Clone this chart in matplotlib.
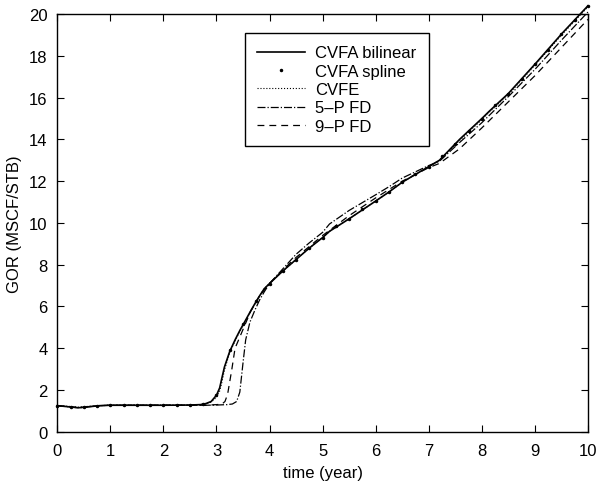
import matplotlib
matplotlib.use('Agg')
import matplotlib.pyplot as plt
import numpy as np

plt.rcParams['font.family'] = ['Liberation Sans', 'DejaVu Sans']
plt.rcParams['font.size'] = 12

# CVFA bilinear / CVFE (same time grid)
t_bil = [0, 0.2, 0.4, 0.6, 0.8, 1.0, 1.5, 2.0, 2.5, 2.7, 2.8, 2.9, 3.0, 3.06, 3.1, 3.15,
         3.25, 3.35, 3.44, 3.55, 3.63, 3.72, 3.81, 3.9, 4.0, 4.25, 4.5, 4.75, 5.0, 5.13,
         5.5, 6.0, 6.26, 6.5, 7.0, 7.2, 7.58, 8.0, 8.14, 8.5, 9.0, 9.52, 10.0]
g_bil = [1.25, 1.2, 1.15, 1.2, 1.25, 1.27, 1.27, 1.27, 1.28, 1.3, 1.35, 1.45, 1.75, 2.1, 2.55, 3.1,
         3.85, 4.4, 4.85, 5.35, 5.72, 6.12, 6.5, 6.85, 7.1, 7.7, 8.25, 8.8, 9.3, 9.6,
         10.2, 11.05, 11.5, 11.95, 12.7, 13.0, 14.0, 15.0, 15.35, 16.2, 17.6, 19.1, 20.4]
g_cvfe = [1.25, 1.22, 1.18, 1.22, 1.25, 1.27, 1.27, 1.27, 1.28, 1.3, 1.34, 1.42, 1.65, 1.95, 2.35, 2.95,
          3.8, 4.35, 4.82, 5.32, 5.7, 6.1, 6.5, 6.85, 7.1, 7.7, 8.25, 8.8, 9.3, 9.6,
          10.2, 11.05, 11.5, 11.95, 12.7, 13.0, 13.95, 14.95, 15.3, 16.15, 17.55, 19.05, 20.35]

# CVFA spline (marker points)
t_spl = [0.0, 0.25, 0.5, 0.75, 1.0, 1.25, 1.5, 1.75, 2.0, 2.25, 2.5, 2.75, 3.0, 3.25, 3.5,
         3.75, 4.0, 4.25, 4.5, 4.75, 5.0, 5.25, 5.5, 5.75, 6.0, 6.25, 6.5, 6.75, 7.0, 7.25,
         7.5, 7.75, 8.0, 8.25, 8.5, 8.75, 9.0, 9.25, 9.5, 9.75, 10.0]
g_spl = [1.25, 1.2, 1.17, 1.24, 1.27, 1.27, 1.27, 1.27, 1.27, 1.28, 1.28, 1.32, 1.75, 3.9, 5.15,
         6.25, 7.1, 7.7, 8.25, 8.8, 9.3, 9.85, 10.2, 10.65, 11.05, 11.5, 11.95, 12.35, 12.7, 13.2,
         13.8, 14.4, 15.0, 15.65, 16.2, 16.9, 17.6, 18.3, 19.05, 19.7, 20.4]

# 5-P FD
t_5p = [0, 0.2, 0.4, 0.6, 0.8, 1.0, 2.0, 2.8, 3.0, 3.2, 3.3, 3.38, 3.44, 3.5, 3.55, 3.63, 3.72,
        3.81, 3.9, 4.0, 4.25, 4.5, 4.75, 5.0, 5.13, 5.5, 6.0, 6.26, 6.5, 7.0, 7.2, 7.58,
        8.0, 8.5, 9.0, 9.5, 10.0]
g_5p = [1.25, 1.2, 1.15, 1.2, 1.25, 1.27, 1.27, 1.27, 1.28, 1.3, 1.33, 1.45, 1.9, 3.3, 4.4, 5.25, 5.8,
        6.3, 6.7, 7.1, 7.8, 8.5, 9.05, 9.55, 9.95, 10.6, 11.35, 11.75, 12.15, 12.75, 12.95, 13.85,
        14.8, 16.05, 17.35, 18.75, 20.1]

# 9-P FD
t_9p = [0, 0.2, 0.4, 0.6, 0.8, 1.0, 2.0, 2.8, 3.0, 3.1, 3.16, 3.21, 3.29, 3.35, 3.45, 3.55, 3.65,
        3.81, 4.0, 4.25, 4.5, 5.0, 5.5, 6.0, 6.5, 7.0, 7.2, 7.58, 8.0, 8.5, 9.0, 9.5, 10.0]
g_9p = [1.25, 1.2, 1.15, 1.2, 1.25, 1.27, 1.27, 1.27, 1.3, 1.32, 1.45, 1.8, 3.0, 4.0, 4.6, 5.2, 5.8,
        6.5, 7.1, 7.75, 8.35, 9.4, 10.35, 11.2, 12.0, 12.65, 12.85, 13.55, 14.55, 15.8, 17.05, 18.4, 19.75]

fig = plt.figure(figsize=(6.03, 4.89), dpi=100)
ax = fig.add_axes([0.095, 0.115, 0.88, 0.854])

ax.plot(t_bil, g_bil, '-', color='k', lw=1.2, label='CVFA bilinear', clip_on=False)
ax.plot(t_spl, g_spl, '.', color='k', ms=3, label='CVFA spline', clip_on=False)
ax.plot(t_bil, g_cvfe, ':', color='k', lw=0.8, label='CVFE', clip_on=False)
ax.plot(t_5p, g_5p, '-.', color='k', lw=0.9, label='5\u2013P FD', clip_on=False)
ax.plot(t_9p, g_9p, '--', color='k', lw=0.9, dashes=(5.5, 4), label='9\u2013P FD', clip_on=False)

ax.set_xlim(0, 10)
ax.set_ylim(0, 20)
ax.set_xticks(range(0, 11))
ax.set_yticks(range(0, 21, 2))
ax.tick_params(direction='in', top=True, right=True, length=5, width=0.8, labelsize=12)
ax.tick_params(axis='x', pad=8)
ax.tick_params(axis='y', pad=7)
for s in ax.spines.values():
    s.set_linewidth(1.0)
ax.set_xlabel('time (year)', fontsize=12, labelpad=5)
ax.set_ylabel('GOR (MSCF/STB)', fontsize=12, labelpad=5)

leg = ax.legend(loc='upper left', bbox_to_anchor=(0.353, 0.955), numpoints=1,
                fancybox=False, framealpha=1, edgecolor='k', fontsize=12,
                handlelength=2.9, handletextpad=0.6, labelspacing=0.2, borderpad=0.75,
                borderaxespad=0)
leg.get_frame().set_linewidth(1.0)

fig.savefig('out.png', dpi=100)
